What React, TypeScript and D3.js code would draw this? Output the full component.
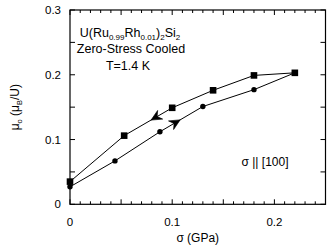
import React from 'react';
import * as d3 from 'd3';

// stress in GPa, moment in muB/U
const upStress = [0, 0.044, 0.088, 0.13, 0.18, 0.22];
const upMoment = [0.027, 0.067, 0.112, 0.151, 0.177, 0.203];
const downStress = [0, 0.053, 0.1, 0.14, 0.18, 0.22];
const downMoment = [0.035, 0.106, 0.149, 0.176, 0.199, 0.203];
const xTickLabels = [0, 0.1, 0.2];
const yTickLabels = [0, 0.1, 0.2, 0.3];

const W = 333;
const H = 249;
const font = '"Liberation Sans", Arial, Helvetica, sans-serif';

const App = () => {
  const margin = {top: 10, right: 7.5, bottom: 44.7, left: 70};
  const x = d3.scaleLinear().domain([0, 0.25]).range([margin.left, W - margin.right]);
  const y = d3.scaleLinear().domain([0, 0.3]).range([H - margin.bottom, margin.top]);
  const [x0, x1] = x.range();
  const [y0, y1] = y.range();

  const up = upStress.map((s, i) => [s, upMoment[i]] as [number, number]);
  const down = downStress.map((s, i) => [s, downMoment[i]] as [number, number]);
  const line = d3.line<[number, number]>().x(d => x(d[0])).y(d => y(d[1]));

  // arrowhead placed on a segment of a series, pointing from a to b
  const arrow = (a: [number, number], b: [number, number], t: number) => {
    const ax = x(a[0]), ay = y(a[1]), bx = x(b[0]), by = y(b[1]);
    const px = ax + (bx - ax) * t, py = ay + (by - ay) * t;
    const ang = (Math.atan2(by - ay, bx - ax) * 180) / Math.PI;
    return (
      <path
        d="M0,0 L-10.5,-5 L-7,0 L-10.5,5 Z"
        transform={`translate(${px},${py}) rotate(${ang})`}
        fill="#000"
        stroke="#000"
        strokeWidth={0.6}
        strokeLinejoin="miter"
      />
    );
  };

  const minor = d3.range(0, 0.2501, 0.01).map(v => +v.toFixed(2));
  const yTicks = d3.range(0, 0.3001, 0.05).map(v => +v.toFixed(2));

  return (
    <svg width={W} height={H} style={{position: 'absolute', left: 0, top: 0}} fontFamily={font}>
      <rect width={W} height={H} fill="#fff" />
      {/* x ticks, bottom and top */}
      {minor.map(v => {
        const len = Math.round(v * 100) % 5 === 0 ? 5 : 3;
        return (
          <g key={'xt' + v} stroke="#000" strokeWidth={1}>
            <line x1={x(v)} x2={x(v)} y1={y0} y2={y0 - len} />
            <line x1={x(v)} x2={x(v)} y1={y1} y2={y1 + len} />
          </g>
        );
      })}
      {yTicks.map(v => (
        <g key={'yt' + v} stroke="#000" strokeWidth={1}>
          <line x1={x0} x2={x0 + 5} y1={y(v)} y2={y(v)} />
          <line x1={x1} x2={x1 - 5} y1={y(v)} y2={y(v)} />
        </g>
      ))}
      <rect x={x0} y={y1} width={x1 - x0} height={y0 - y1} fill="none" stroke="#000" strokeWidth={1.2} />

      {xTickLabels.map(v => (
        <text key={'xl' + v} x={x(v)} y={y0 + 22} textAnchor="middle" fontSize={11.5}>
          {v === 0 ? '0' : v}
        </text>
      ))}
      {yTickLabels.map(v => (
        <text key={'yl' + v} x={x0 - 9} y={y(v) + 4} textAnchor="end" fontSize={11.5}>
          {v === 0 ? '0' : v}
        </text>
      ))}

      <text x={(x0 + x1) / 2} y={242} textAnchor="middle" fontSize={12}>
        σ (GPa)
      </text>
      <text transform={`translate(19,${(y0 + y1) / 2}) rotate(-90)`} textAnchor="middle" fontSize={12}>
        μ<tspan fontSize={7.5} dy={3}>o</tspan>
        <tspan dy={-3}> (μ</tspan>
        <tspan fontSize={7.5} dy={3}>B</tspan>
        <tspan dy={-3}>/U)</tspan>
      </text>

      {/* legend text */}
      <text x={130} y={36.5} textAnchor="middle" fontSize={12.5}>
        U(Ru<tspan fontSize={8} dy={3.5}>0.99</tspan>
        <tspan dy={-3.5}>Rh</tspan>
        <tspan fontSize={8} dy={3.5}>0.01</tspan>
        <tspan dy={-3.5}>)</tspan>
        <tspan fontSize={8} dy={3.5}>2</tspan>
        <tspan dy={-3.5}>Si</tspan>
        <tspan fontSize={8} dy={3.5}>2</tspan>
      </text>
      <text x={131} y={53.3} textAnchor="middle" fontSize={12.5}>
        Zero-Stress Cooled
      </text>
      <text x={128} y={70} textAnchor="middle" fontSize={12.5}>
        T=1.4 K
      </text>
      <text x={265} y={166} textAnchor="middle" fontSize={12}>
        σ || [100]
      </text>

      {/* data */}
      <path d={line(up) || ''} fill="none" stroke="#000" strokeWidth={1} />
      <path d={line(down) || ''} fill="none" stroke="#000" strokeWidth={1} />
      {up.map((d, i) => (
        <circle key={'c' + i} cx={x(d[0])} cy={y(d[1])} r={2.7} fill="#000" />
      ))}
      {down.map((d, i) => (
        <rect key={'s' + i} x={x(d[0]) - 3.3} y={y(d[1]) - 3.3} width={6.6} height={6.6} fill="#000" />
      ))}
      {arrow(up[2], up[3], 0.47)}
      {arrow(down[2], down[1], 0.44)}
    </svg>
  );
};

export default App;
